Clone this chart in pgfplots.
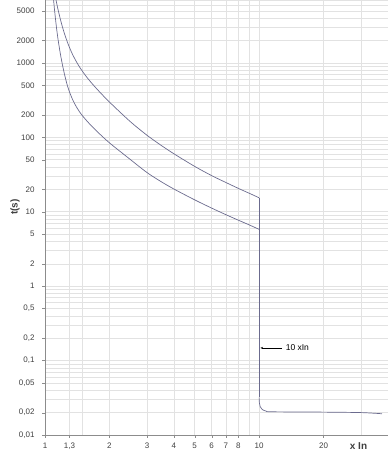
\documentclass[border=0pt]{standalone}
\usepackage{fontspec}
\setmainfont{Liberation Sans}
\usepackage{pgfplots}
\pgfplotsset{compat=1.18}
\usetikzlibrary{arrows.meta}
\definecolor{curve}{HTML}{6B6B8E}
\definecolor{gridc}{HTML}{E2E2E2}
\definecolor{axc}{HTML}{8C8C8C}
\definecolor{lab}{HTML}{404040}
\begin{document}
\begin{tikzpicture}
\path[use as bounding box] (-45pt,-26pt) rectangle (343pt,435pt);
\begin{axis}[
  at={(0,0)}, anchor=south west,
  scale only axis, width=343pt, height=435pt,
  xmode=log, ymode=log,
  xmin=1, xmax=40, ymin=0.01, ymax=7000,
  enlargelimits=false,
  clip mode=individual,
  axis lines=left,
  axis line style={draw=axc,-},
  xtick={1,1.3,2,3,4,5,6,7,8,10,20},
  xticklabels={1,{1,3},2,3,4,5,6,7,8,10,20},
  minor xtick={1.5,9,30},
  ytick={0.01,0.02,0.05,0.1,0.2,0.5,1,2,5,10,20,50,100,200,500,1000,2000,5000},
  yticklabels={{0,01},{0,02},{0,05},{0,1},{0,2},{0,5},1,2,5,10,20,50,100,200,500,1000,2000,5000},
  minor ytick={0.03,0.04,0.06,0.07,0.08,0.09,0.3,0.4,0.6,0.7,0.8,0.9,3,4,6,7,8,9,30,40,60,70,80,90,300,400,600,700,800,900,3000,4000,6000,7000},
  xmajorgrids, xminorgrids, ymajorgrids, yminorgrids,
  major grid style={draw=gridc, line width=0.5pt},
  minor grid style={draw=gridc, line width=0.5pt},
  tick align=outside,
  major tick length=3pt, minor tick length=0pt,
  tick style={draw=axc},
  tick label style={font=\fontsize{8}{9}\selectfont, text=lab},
  yticklabel style={xshift=-4pt},
  xticklabel style={yshift=-1pt},
]
% upper curve
\addplot[curve, line width=0.7pt, smooth, tension=0.5] coordinates {
(1.10,10060) (1.122,7362) (1.15,5239) (1.19,3505) (1.227,2580) (1.28,1815) (1.342,1317) (1.42,971) (1.5,763) (1.6,597) (1.75,444) (2,298) (2.5,163) (3,106.2) (3.5,77.4) (4,60.1) (5,40.7) (6,30.6) (7,24.7) (8,20.6) (9,17.7) (10,15.4)
};
% lower curve
\addplot[curve, line width=0.7pt, smooth, tension=0.5] coordinates {
(1.08,11950) (1.095,7375) (1.11,4900) (1.13,3080) (1.15,2094) (1.18,1318) (1.21,904) (1.24,658) (1.27,505) (1.3,410) (1.35,315) (1.4,258) (1.45,220) (1.5,193) (1.6,156) (1.75,120) (2,84.3) (2.5,50.5) (3,33.5) (3.5,25.2) (4,20.2) (5,14.45) (6,11.2) (7,9.13) (8,7.7) (9,6.65) (10,5.8)
};
% vertical drop
\addplot[curve, line width=0.7pt] coordinates {(10,15.4) (10,0.032)};
% tail
\addplot[curve, line width=0.7pt, smooth, tension=0.5] coordinates {
(10,0.032) (10.03,0.027) (10.12,0.024) (10.35,0.022) (10.8,0.0209) (11.5,0.0205) (20,0.0203) (30,0.0200) (37.5,0.0193)
};
\draw[-{Stealth[length=2.5pt,width=2pt]}, draw=black, line width=0.4pt] (axis cs:12.8,0.148) -- (axis cs:10.15,0.148);
\node[anchor=west, font=\fontsize{8.5}{9}\selectfont, text=black, inner sep=0pt] at (axis cs:13.3,0.148) {10 xIn};
\node[rotate=90, font=\fontsize{10}{11}\selectfont\bfseries, text=lab] at ([xshift=-30pt]rel axis cs:0,0.524) {t(s)};
\node[font=\fontsize{10}{11}\selectfont\bfseries, text=lab] at ([yshift=-11pt]rel axis cs:0.914,0) {x In};
\end{axis}
\end{tikzpicture}
\end{document}
